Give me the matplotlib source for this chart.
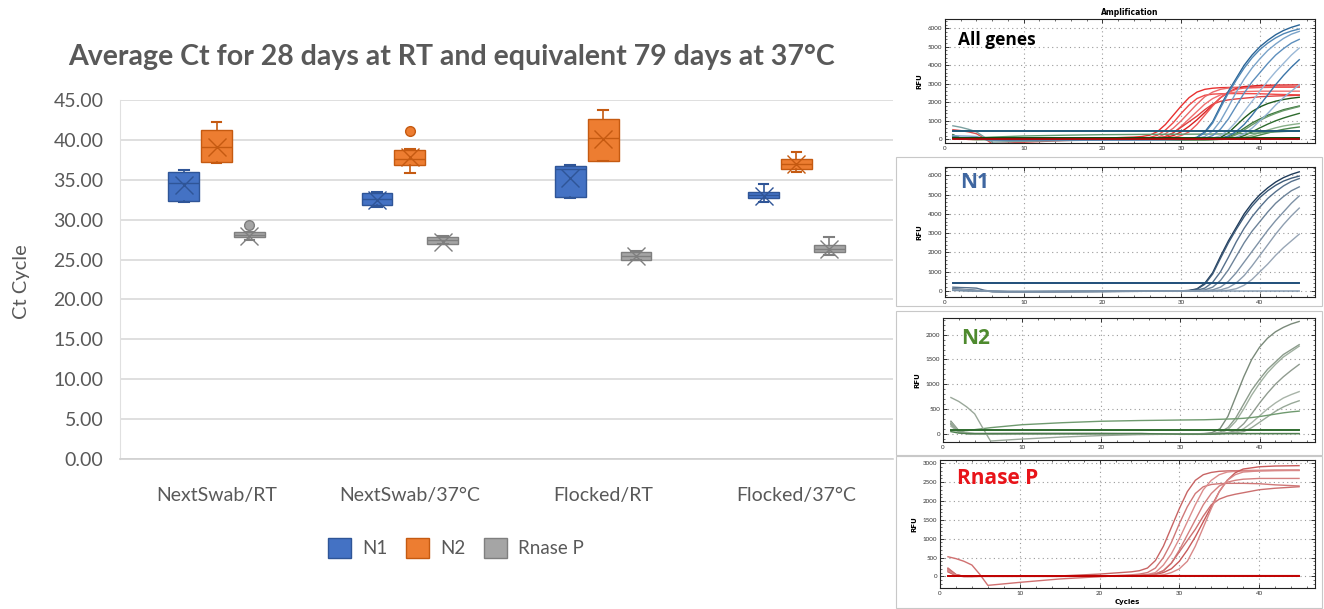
import matplotlib
matplotlib.use("Agg")
import matplotlib.pyplot as plt
from matplotlib.patches import Patch, Rectangle
from matplotlib.ticker import MultipleLocator

plt.rcParams['font.family'] = ['Lato', 'DejaVu Sans']

# ---- box plot data (Ct values) ----
categories = ['NextSwab/RT', 'NextSwab/37°C', 'Flocked/RT', 'Flocked/37°C']
genes = ['N1', 'N2', 'Rnase P']

n1_whislo = [32.2, 31.6, 32.7, 32.2]
n1_q1 = [32.3, 31.8, 32.8, 32.7]
n1_med = [34.6, 32.6, 36.3, 33.1]
n1_q3 = [36.0, 33.3, 36.7, 33.5]
n1_whishi = [36.2, 33.5, 36.8, 34.5]
n1_mean = [34.3, 32.5, 35.2, 33.0]
n1_out = [[], [], [], []]

n2_whislo = [37.1, 35.8, 37.3, 36.0]
n2_q1 = [37.2, 36.9, 37.4, 36.4]
n2_med = [39.1, 37.6, 40.2, 37.0]
n2_q3 = [41.2, 38.7, 42.6, 37.6]
n2_whishi = [42.2, 38.8, 43.8, 38.5]
n2_mean = [39.1, 37.8, 40.1, 37.0]
n2_out = [[], [41.1], [], []]

rp_whislo = [27.4, 26.9, 24.9, 25.6]
rp_q1 = [27.8, 27.0, 25.0, 25.9]
rp_med = [28.1, 27.4, 25.4, 26.3]
rp_q3 = [28.4, 27.8, 25.9, 26.8]
rp_whishi = [28.5, 27.9, 26.1, 27.8]
rp_mean = [27.9, 27.2, 25.4, 26.3]
rp_out = [[29.3], [], [], []]

# ---- amplification curves (RFU) ----
N1_CYC = [1, 2, 3, 4, 5, 6, 8, 10, 15, 20, 25, 28, 30, 31, 32, 33, 34, 35, 36, 37, 38, 39, 40, 41, 42, 43, 44, 45]
n1_curves = [
    [120, 90, 60, 30, 0, -30, -40, -40, -30, -20, -10, 0, 10, 30, 110, 400, 950, 1800, 2600, 3300, 4000, 4550, 5000, 5350, 5650, 5880, 6050, 6180],
    [60, 40, 20, 10, 0, -20, -30, -30, -25, -20, -10, 0, 5, 20, 90, 350, 880, 1700, 2500, 3200, 3850, 4400, 4850, 5200, 5480, 5700, 5850, 5960],
    [200, 180, 170, 150, 40, -20, -40, -40, -30, -20, -15, -5, 0, 10, 40, 150, 450, 1000, 1750, 2550, 3250, 3850, 4350, 4800, 5150, 5450, 5680, 5830],
    [80, 60, 40, 20, 0, -20, -30, -30, -25, -20, -15, -10, 0, 5, 15, 60, 200, 550, 1100, 1800, 2500, 3100, 3600, 4100, 4550, 4900, 5200, 5400],
    [50, 30, 20, 10, 0, -20, -30, -30, -25, -20, -15, -10, -5, 0, 10, 20, 60, 200, 500, 950, 1500, 2050, 2600, 3150, 3650, 4100, 4550, 4930],
    [100, 80, 50, 20, 0, -20, -30, -30, -25, -20, -15, -10, -5, 0, 5, 10, 20, 60, 180, 420, 800, 1300, 1850, 2400, 2950, 3450, 3900, 4300],
    [40, 30, 20, 10, 0, -20, -30, -30, -25, -20, -15, -10, -5, -5, 0, 5, 10, 15, 40, 120, 300, 600, 1000, 1400, 1850, 2250, 2600, 2950],
    [30, 20, 10, 5, 0, -10, -20, -20, -15, -10, -5, 0, 0, 0, 0, 0, 0, 0, 0, 0, 0, 0, 0, 0, 0, 0, 0, 0],
]
n1_threshold = 430

N2_CYC = [1, 2, 3, 4, 5, 6, 8, 10, 15, 20, 25, 30, 33, 34, 35, 36, 37, 38, 39, 40, 41, 42, 43, 44, 45]
n2_curves = [
    [250, 60, 10, 0, 0, 0, 0, 0, 0, 0, 0, -10, 0, 20, 100, 350, 750, 1150, 1500, 1750, 1930, 2060, 2150, 2220, 2270],
    [200, 40, 0, -10, -10, -10, -5, 0, 0, 0, 0, -10, -10, 0, 30, 120, 320, 600, 880, 1100, 1300, 1450, 1600, 1700, 1800],
    [230, 50, 10, 0, 0, 0, 0, 0, 0, 0, -5, -15, -10, -5, 10, 80, 250, 500, 780, 1020, 1230, 1400, 1550, 1660, 1770],
    [180, 30, 0, -10, -10, -5, 0, 0, 0, 0, -5, -15, -15, -10, 0, 20, 60, 200, 400, 620, 820, 1000, 1150, 1280, 1400],
    [150, 30, 0, -5, -5, 0, 0, 0, 0, 0, -5, -10, -10, -5, 0, 10, 30, 100, 220, 360, 500, 620, 720, 790, 850],
    [200, 40, 5, 0, 0, 0, 0, 0, 0, 0, 0, -5, -5, 0, 5, 10, 20, 40, 120, 230, 340, 450, 540, 610, 665],
    [60, 55, 60, 80, 100, 120, 150, 180, 220, 250, 265, 275, 280, 285, 290, 295, 300, 310, 325, 345, 370, 395, 420, 440, 455],
    [730, 650, 540, 400, 120, -150, -130, -110, -70, -40, -20, -10, 0, 0, 0, 0, 0, 0, 0, 0, 0, 0, 0, 0, 0],
    [40, 10, 0, 0, 0, 0, 0, 0, 0, 0, 0, -10, -10, -10, -5, 0, 0, 0, 0, 0, 0, 0, 0, 0, 0],
]
n2_threshold = 70

RP_CYC = [1, 2, 3, 4, 5, 6, 8, 10, 15, 20, 22, 24, 25, 26, 27, 28, 29, 30, 31, 32, 33, 34, 35, 36, 37, 38, 40, 42, 45]
rp_curves = [
    [200, 40, 0, 0, 0, 0, 0, 0, 10, 60, 90, 120, 150, 220, 420, 800, 1300, 1800, 2250, 2550, 2700, 2760, 2790, 2800, 2805, 2810, 2815, 2820, 2820],
    [150, 20, -10, -10, 0, 0, 0, 0, 0, 10, 20, 40, 60, 100, 220, 500, 900, 1400, 1850, 2200, 2380, 2440, 2460, 2470, 2470, 2470, 2460, 2430, 2400],
    [180, 30, 0, 0, 0, 0, 0, 0, 0, 5, 10, 20, 30, 50, 100, 300, 600, 1000, 1450, 1900, 2300, 2550, 2700, 2770, 2790, 2800, 2805, 2810, 2810],
    [120, 20, 0, 0, 0, 0, 0, 0, 0, 0, 5, 10, 20, 30, 50, 100, 200, 400, 700, 1050, 1450, 1850, 2250, 2550, 2750, 2850, 2910, 2930, 2940],
    [200, 40, 0, 0, 0, 0, 0, 0, 0, 0, 5, 10, 20, 30, 60, 150, 350, 700, 1100, 1500, 1900, 2200, 2400, 2500, 2550, 2580, 2600, 2600, 2600],
    [220, 50, 0, 0, 0, 0, 0, 0, 0, 0, 5, 10, 20, 30, 60, 150, 350, 650, 950, 1250, 1600, 1900, 2050, 2130, 2180, 2220, 2300, 2340, 2380],
    [150, 30, 0, 0, 0, 0, 0, 0, 0, 0, 0, 5, 10, 15, 20, 40, 100, 200, 400, 800, 1300, 1800, 2250, 2550, 2700, 2770, 2800, 2810, 2820],
    [520, 470, 400, 300, 50, -240, -200, -160, -70, -10, 10, 20, 20, 20, 20, 20, 20, 20, 20, 20, 20, 20, 20, 20, 20, 20, 20, 20, 20],
]
rp_threshold = 20

# ---- colours ----
box_face = ['#4472C4', '#ED7D31', '#A5A5A5']
box_edge = ['#2F5597', '#C55A11', '#7F7F7F']
all_n1_cols = ['#2a6496', '#4f86b5', '#7aa3c9', '#5d8fbd', '#9ab8d6', '#3b75a8', '#8fb0d0', '#1f4f7a']
all_n2_cols = ['#1e5a1e', '#3c783c', '#6a9a6a', '#2d6b2d', '#8ab08a', '#4a864a', '#5f9a6f', '#7aa0a0', '#1a4a1a']
all_rp_cols = ['#e8302f', '#f04a48', '#e86a6a', '#d92020', '#f07070', '#e04040', '#f05858', '#d85050']
p_n1_cols = ['#1f3b5a', '#3d5a78', '#56708c', '#6d8399', '#7f92a6', '#8e9eb0', '#98a6b6', '#7890a8']
p_n2_cols = ['#7a8a7a', '#8c9c8c', '#a0b0a0', '#909c90', '#a8b4a8', '#98a898', '#6f9a6f', '#9aa89a', '#4f7f4f']
p_rp_cols = ['#c86464', '#d07878', '#dc8c8c', '#c85a5a', '#d48080', '#cc7070', '#d88888', '#d07070']

W, H = 1324, 609
fig = plt.figure(figsize=(W / 100, H / 100), dpi=100)


def px_axes(left, top, right, bottom):
    return fig.add_axes([left / W, 1 - bottom / H, (right - left) / W, (bottom - top) / H])


# ================= left: box plot =================
ax = px_axes(120, 100, 893, 459)
gray_txt = '#595959'
offsets = [-0.17, 0.0, 0.17]
all_stats = [
    (n1_whislo, n1_q1, n1_med, n1_q3, n1_whishi, n1_mean, n1_out),
    (n2_whislo, n2_q1, n2_med, n2_q3, n2_whishi, n2_mean, n2_out),
    (rp_whislo, rp_q1, rp_med, rp_q3, rp_whishi, rp_mean, rp_out),
]
for g, (wl, q1, md, q3, wh, mn, out) in enumerate(all_stats):
    stats = []
    for i in range(len(categories)):
        stats.append(dict(whislo=wl[i], q1=q1[i], med=md[i], q3=q3[i], whishi=wh[i],
                          mean=mn[i], fliers=out[i]))
    ec = box_edge[g]
    ax.bxp(stats, positions=[i + offsets[g] for i in range(len(categories))], widths=0.16,
           patch_artist=True, showmeans=True, showfliers=True,
           boxprops=dict(facecolor=box_face[g], edgecolor=ec, linewidth=1),
           medianprops=dict(color=ec, linewidth=1),
           whiskerprops=dict(color=ec, linewidth=1.2),
           capprops=dict(color=ec, linewidth=1.5),
           capwidths=0.05,
           meanprops=dict(marker='x', markersize=13, markeredgecolor=ec, markeredgewidth=1),
           flierprops=dict(marker='o', markersize=7, markerfacecolor=box_face[g],
                           markeredgecolor=ec), zorder=3)

ax.set_xlim(-0.5, len(categories) - 0.5)
ax.set_ylim(0, 45)
ax.set_yticks(range(0, 46, 5))
ax.set_yticklabels([f'{v:.2f}' for v in range(0, 46, 5)])
ax.set_xticks(range(len(categories)))
ax.set_xticklabels(categories)
ax.tick_params(axis='both', length=0, labelsize=14, colors=gray_txt)
ax.tick_params(axis='x', pad=20)
ax.tick_params(axis='y', pad=12)
ax.yaxis.grid(True, color='#d9d9d9', linewidth=1.2)
ax.set_axisbelow(True)
for s in ['top', 'right']:
    ax.spines[s].set_visible(False)
ax.spines['left'].set_color('#e0e0e0')
ax.spines['bottom'].set_color('#d0d0d0')
ax.spines['bottom'].set_linewidth(1.2)

fig.text(22 / W, 1 - 282 / H, 'Ct Cycle', rotation=90, ha='center', va='center',
         fontsize=14.5, color=gray_txt)
fig.text(452 / W, 1 - 57 / H, 'Average Ct for 28 days at RT and equivalent 79 days at 37°C',
         ha='center', va='center', fontsize=20.5, fontweight='bold', color=gray_txt)

handles = [Patch(facecolor=box_face[g], edgecolor=box_edge[g], label=genes[g]) for g in range(3)]
fig.legend(handles=handles, loc='center', bbox_to_anchor=(456 / W, 1 - 548 / H), ncol=3,
           frameon=False, fontsize=13.5, labelcolor=gray_txt, handlelength=1.2, handleheight=1.2,
           columnspacing=1.0, handletextpad=0.6)

# ================= right: amplification panels =================
panels = [
    dict(box=(945, 19, 1315, 143), ylim=(-200, 6500), yt=1000, label='All genes', lc='black', lx=(958, 40), fs=12.5),
    dict(box=(945, 167, 1315, 297), ylim=(-310, 6430), yt=1000, label='N1', lc='#3f66a0', lx=(960, 183), fs=15),
    dict(box=(943, 318, 1315, 442), ylim=(-170, 2340), yt=500, label='N2', lc='#4e8a2e', lx=(961, 338), fs=15),
    dict(box=(940, 460, 1315, 588), ylim=(-310, 3090), yt=500, label='Rnase P', lc='#e8141a', lx=(957, 479), fs=15),
]

# light frames of the pasted screenshots
for (l, t, r, b) in [(896, 157, 1322, 306), (896, 311, 1322, 455), (896, 456, 1322, 608)]:
    fig.patches.append(Rectangle((l / W, 1 - b / H), (r - l) / W, (b - t) / H,
                                 transform=fig.transFigure, fill=False, edgecolor='#c8c8c8',
                                 linewidth=0.8))

axes_r = []
for p in panels:
    l, t, r, b = p['box']
    a = px_axes(l, t, r, b)
    a.set_xlim(0, 47)
    a.set_ylim(*p['ylim'])
    a.xaxis.set_major_locator(MultipleLocator(10))
    a.xaxis.set_minor_locator(MultipleLocator(2))
    a.yaxis.set_major_locator(MultipleLocator(p['yt']))
    a.yaxis.set_minor_locator(MultipleLocator(p['yt'] / 5))
    a.grid(True, which='major', color='#9a9a9a', linestyle=(0, (1, 3)), linewidth=0.8)
    a.tick_params(which='both', direction='in', top=True, right=True, labelsize=4.5,
                  colors='#333333', pad=2)
    a.tick_params(which='major', length=3, width=0.7)
    a.tick_params(which='minor', length=1.5, width=0.5)
    for s in a.spines.values():
        s.set_linewidth(0.8)
        s.set_color('#222222')
    a.set_ylabel('RFU', fontsize=5, fontweight='bold', family='DejaVu Sans', labelpad=4)
    a.text((p['lx'][0] - l) / (r - l), 1 - (p['lx'][1] - t) / (b - t), p['label'],
           transform=a.transAxes, ha='left', va='center', fontsize=p['fs'],
           fontweight='bold', color=p['lc'], family=['Open Sans', 'DejaVu Sans'])
    axes_r.append(a)

a0, a1, a2, a3 = axes_r
a0.set_title('Amplification', fontsize=5.5, fontweight='bold', family='DejaVu Sans', pad=3)
a3.set_xlabel('Cycles', fontsize=5, fontweight='bold', family='DejaVu Sans', labelpad=2)

# All genes overlay
for i, c in enumerate(rp_curves):
    a0.plot(RP_CYC, c, color=all_rp_cols[i % len(all_rp_cols)], lw=1.0)
for i, c in enumerate(n2_curves):
    a0.plot(N2_CYC, c, color=all_n2_cols[i % len(all_n2_cols)], lw=1.0)
for i, c in enumerate(n1_curves):
    a0.plot(N1_CYC, c, color=all_n1_cols[i % len(all_n1_cols)], lw=1.0)
a0.plot([N1_CYC[0], N1_CYC[-1]], [n1_threshold, n1_threshold], color='#1f5a7a', lw=1.4)
a0.plot([N2_CYC[0], N2_CYC[-1]], [n2_threshold, n2_threshold], color='#0f4a0f', lw=1.4)
a0.plot([RP_CYC[0], RP_CYC[-1]], [rp_threshold, rp_threshold], color='#c00000', lw=1.2)

# N1
for i, c in enumerate(n1_curves):
    a1.plot(N1_CYC, c, color=p_n1_cols[i % len(p_n1_cols)], lw=1.0)
a1.plot([N1_CYC[0], N1_CYC[-1]], [n1_threshold, n1_threshold], color='#1f4e79', lw=1.4)

# N2
for i, c in enumerate(n2_curves):
    a2.plot(N2_CYC, c, color=p_n2_cols[i % len(p_n2_cols)], lw=1.0)
a2.plot([N2_CYC[0], N2_CYC[-1]], [n2_threshold, n2_threshold], color='#2f6b2f', lw=1.4)

# Rnase P
for i, c in enumerate(rp_curves):
    a3.plot(RP_CYC, c, color=p_rp_cols[i % len(p_rp_cols)], lw=1.0)
a3.plot([RP_CYC[0], RP_CYC[-1]], [rp_threshold, rp_threshold], color='#c00000', lw=1.4)

fig.savefig('out.png', dpi=100)
